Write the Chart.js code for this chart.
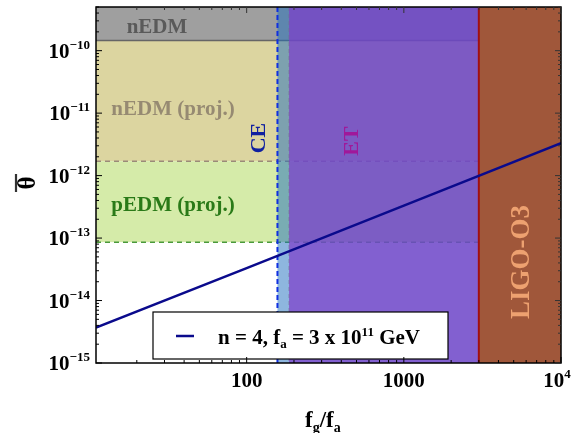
<!DOCTYPE html>
<html>
<head>
<meta charset="utf-8">
<script src="https://cdn.jsdelivr.net/npm/chart.js@4.4.1/dist/chart.umd.min.js"></script>
<style>
  body { margin: 0; background: #fff; }
  #wrap { width: 581px; height: 433px; position: relative; }
</style>
</head>
<body>
<div id="wrap"><canvas id="myChart"></canvas></div>
<script>
// axis ranges
var xMin = 11, xMax = 10000;
var yMin = 1e-15, yMax = 5e-10;

// horizontal EDM bands (theta ranges)
var bandNames = ['nEDM', 'nEDM (proj.)', 'pEDM (proj.)'];
var bandLow = [1.45e-10, 1.7e-12, 8.6e-14];
var bandHigh = [5e-10, 1.45e-10, 1.7e-12];

// vertical detector regions (f_g/f_a)
var detNames = ['CE', 'ET', 'LIGO-O3'];
var detLow = [157, 186, 3000];
var detHigh = [186, 3000, 10000];

// the n = 4 line
var lineX = [11, 100, 1000, 10000];
var lineY = [3.7e-15, 3.3e-14, 3.3e-13, 3.3e-12];

// ticks: [base, exponent]
var yTicks = [1e-15, 1e-14, 1e-13, 1e-12, 1e-11, 1e-10];
var yTickBase = ['10', '10', '10', '10', '10', '10'];
var yTickExp = ['\u221215', '\u221214', '\u221213', '\u221212', '\u221211', '\u221210'];
var xTicks = [100, 1000, 10000];
var xTickBase = ['100', '1000', '10'];
var xTickExp = ['', '', '4'];

var serif = '"Liberation Serif", "DejaVu Serif", serif';

function rotText(ctx, txt, x, y, font, color) {
  ctx.save();
  ctx.translate(x, y);
  ctx.rotate(-Math.PI / 2);
  ctx.font = font;
  ctx.fillStyle = color;
  ctx.textAlign = 'center';
  ctx.textBaseline = 'middle';
  ctx.fillText(txt, 0, 0);
  ctx.restore();
}

var regionsPlugin = {
  id: 'regions',
  beforeDatasetsDraw: function (chart) {
    var ctx = chart.ctx, xs = chart.scales.x, ys = chart.scales.y, a = chart.chartArea;
    var bandColors = ['#9f9f9f', '#dcd5a0', '#d5eba9'];
    ctx.save();
    ctx.beginPath();
    ctx.rect(a.left, a.top, a.right - a.left, a.bottom - a.top);
    ctx.clip();

    // horizontal bands
    for (var i = 0; i < bandNames.length; i++) {
      var y1 = ys.getPixelForValue(bandHigh[i]), y2 = ys.getPixelForValue(bandLow[i]);
      ctx.fillStyle = bandColors[i];
      ctx.fillRect(a.left, y1, a.right - a.left, y2 - y1);
    }
    // band edges
    ctx.lineWidth = 1.5;
    ctx.strokeStyle = '#666666';
    ctx.beginPath();
    var yb = ys.getPixelForValue(bandLow[0]);
    ctx.moveTo(a.left, yb); ctx.lineTo(a.right, yb); ctx.stroke();
    ctx.setLineDash([5, 4]);
    ctx.strokeStyle = '#9a8a78';
    yb = ys.getPixelForValue(bandLow[1]);
    ctx.beginPath(); ctx.moveTo(a.left, yb); ctx.lineTo(a.right, yb); ctx.stroke();
    ctx.strokeStyle = '#4a9a3a';
    yb = ys.getPixelForValue(bandLow[2]);
    ctx.beginPath(); ctx.moveTo(a.left, yb); ctx.lineTo(a.right, yb); ctx.stroke();
    ctx.setLineDash([]);

    // detector regions
    var detColors = ['rgba(30,110,190,0.5)', 'rgba(110,70,200,0.86)', '#a0573a'];
    for (var j = 0; j < detNames.length; j++) {
      var x1 = xs.getPixelForValue(detLow[j]), x2 = xs.getPixelForValue(detHigh[j]);
      ctx.fillStyle = detColors[j];
      ctx.fillRect(x1, a.top, x2 - x1, a.bottom - a.top);
    }
    // edges
    var xe = xs.getPixelForValue(detLow[1]);
    ctx.strokeStyle = 'rgba(120,100,150,0.6)';
    ctx.lineWidth = 1;
    ctx.setLineDash([4, 3]);
    ctx.beginPath(); ctx.moveTo(xe, a.top); ctx.lineTo(xe, a.bottom); ctx.stroke();
    xe = xs.getPixelForValue(detLow[0]);
    ctx.strokeStyle = '#1030e0';
    ctx.lineWidth = 2;
    ctx.setLineDash([5, 3]);
    ctx.beginPath(); ctx.moveTo(xe, a.top); ctx.lineTo(xe, a.bottom); ctx.stroke();
    ctx.setLineDash([]);
    xe = xs.getPixelForValue(detLow[2]);
    ctx.strokeStyle = '#a01010';
    ctx.lineWidth = 2;
    ctx.beginPath(); ctx.moveTo(xe, a.top); ctx.lineTo(xe, a.bottom); ctx.stroke();

    // labels
    ctx.font = 'bold 21px ' + serif;
    ctx.textAlign = 'center';
    ctx.textBaseline = 'middle';
    ctx.fillStyle = '#5a5a5a';
    ctx.fillText(bandNames[0], 157, 28);
    ctx.fillStyle = '#968a72';
    ctx.fillText(bandNames[1], 173, 110);
    ctx.fillStyle = '#2a7a18';
    ctx.fillText(bandNames[2], 173, 206);
    rotText(ctx, detNames[0], 259, 138, 'bold 22px ' + serif, '#1020a0');
    rotText(ctx, detNames[1], 352, 141, 'bold 22px ' + serif, '#a0189a');
    rotText(ctx, detNames[2], 522, 262, 'bold 27px ' + serif, '#eda170');
    ctx.restore();
  },
  afterDatasetsDraw: function (chart) {
    var ctx = chart.ctx, xs = chart.scales.x, ys = chart.scales.y, a = chart.chartArea;
    ctx.save();
    // legend box
    ctx.fillStyle = '#ffffff';
    ctx.fillRect(153, 312, 295, 47);
    ctx.strokeStyle = '#000';
    ctx.lineWidth = 1.2;
    ctx.strokeRect(153, 312, 295, 47);
    ctx.strokeStyle = '#0a0a8c';
    ctx.lineWidth = 2.5;
    ctx.beginPath(); ctx.moveTo(176, 336); ctx.lineTo(194, 336); ctx.stroke();
    ctx.fillStyle = '#000';
    ctx.textAlign = 'left';
    ctx.textBaseline = 'alphabetic';
    var bx = 218, by = 344;
    var big = 'bold 21px ' + serif, small = 'bold 13px ' + serif;
    var parts = [['n = 4, f', big, 0], ['a', small, 4], [' = 3 x 10', big, 0], ['11', small, -8], [' GeV', big, 0]];
    parts.forEach(function (p) {
      ctx.font = p[1];
      ctx.fillText(p[0], bx, by + p[2]);
      bx += ctx.measureText(p[0]).width;
    });

    // frame
    ctx.strokeStyle = '#000';
    ctx.lineWidth = 1.5;
    ctx.strokeRect(a.left, a.top, a.right - a.left, a.bottom - a.top);

    // inward ticks
    ctx.lineWidth = 1;
    var dec, m, p, len;
    for (dec = -15; dec <= -10; dec++) {
      for (m = 1; m <= 9; m++) {
        var v = m * Math.pow(10, dec);
        if (v < yMin || v > yMax) continue;
        p = ys.getPixelForValue(v);
        len = m === 1 ? 6 : 3;
        ctx.strokeStyle = '#000';
        ctx.beginPath(); ctx.moveTo(a.left, p); ctx.lineTo(a.left + len, p); ctx.stroke();
        ctx.strokeStyle = '#333';
        ctx.beginPath(); ctx.moveTo(a.right, p); ctx.lineTo(a.right - len, p); ctx.stroke();
      }
    }
    for (dec = 1; dec <= 4; dec++) {
      for (m = 1; m <= 9; m++) {
        var xv = m * Math.pow(10, dec);
        if (xv < xMin || xv > xMax) continue;
        p = xs.getPixelForValue(xv);
        len = m === 1 ? 6 : 3;
        ctx.strokeStyle = '#000';
        ctx.beginPath(); ctx.moveTo(p, a.bottom); ctx.lineTo(p, a.bottom - len); ctx.stroke();
        ctx.strokeStyle = '#333';
        ctx.beginPath(); ctx.moveTo(p, a.top); ctx.lineTo(p, a.top + len); ctx.stroke();
      }
    }

    // tick labels
    var baseFont = 'bold 21px ' + serif, expFont = 'bold 13px ' + serif;
    ctx.fillStyle = '#000';
    ctx.textBaseline = 'alphabetic';
    ctx.textAlign = 'left';
    yTicks.forEach(function (t, i) {
      var py = ys.getPixelForValue(t);
      ctx.font = expFont;
      var ew = ctx.measureText(yTickExp[i]).width;
      ctx.font = baseFont;
      var bw = ctx.measureText(yTickBase[i]).width;
      var x0 = 90 - ew - bw;
      ctx.fillText(yTickBase[i], x0, py + 7);
      ctx.font = expFont;
      ctx.fillText(yTickExp[i], x0 + bw, py - 2);
    });
    xTicks.forEach(function (t, i) {
      var px = xs.getPixelForValue(t);
      ctx.font = baseFont;
      var bw = ctx.measureText(xTickBase[i]).width;
      ctx.font = expFont;
      var ew = xTickExp[i] ? ctx.measureText(xTickExp[i]).width : 0;
      var x0 = px - (bw + ew) / 2 - (ew ? 4 : 0);
      ctx.font = baseFont;
      ctx.fillText(xTickBase[i], x0, 387);
      if (ew) {
        ctx.font = expFont;
        ctx.fillText(xTickExp[i], x0 + bw, 378);
      }
    });

    // axis titles
    var tx = 305, ty = 427;
    var tparts = [['f', 'bold 23px ' + serif, 0], ['g', 'bold 14px ' + serif, 5], ['/f', 'bold 23px ' + serif, 0], ['a', 'bold 14px ' + serif, 5]];
    tparts.forEach(function (p) {
      ctx.font = p[1];
      ctx.fillText(p[0], tx, ty + p[2]);
      tx += ctx.measureText(p[0]).width;
    });
    rotText(ctx, '\u03B8', 29, 183, 'bold 25px ' + serif, '#000');
    ctx.lineWidth = 2.2;
    ctx.beginPath(); ctx.moveTo(16, 174); ctx.lineTo(16, 192); ctx.stroke();
    ctx.restore();
  }
};

var ctx = document.getElementById('myChart');
var myChart = new Chart(ctx, {
  type: 'line',
  data: {
    datasets: [{
      label: 'n = 4, f_a = 3 x 10^11 GeV',
      data: lineX.map(function (x, i) { return { x: x, y: lineY[i] }; }),
      borderColor: '#0a0a8c',
      borderWidth: 2.5,
      pointRadius: 0,
      fill: false
    }]
  },
  options: {
    responsive: true,
    maintainAspectRatio: false,
    animation: false,
    layout: { padding: { top: 7, right: 20, left: 0, bottom: 0 } },
    plugins: { legend: { display: false }, tooltip: { enabled: false } },
    scales: {
      x: {
        type: 'logarithmic',
        min: xMin,
        max: xMax,
        grid: { display: false },
        border: { display: false },
        afterBuildTicks: function (scale) { scale.ticks = xTicks.map(function (v) { return { value: v }; }); },
        afterFit: function (scale) { scale.height = 70; },
        ticks: { display: false }
      },
      y: {
        type: 'logarithmic',
        min: yMin,
        max: yMax,
        grid: { display: false },
        border: { display: false },
        afterBuildTicks: function (scale) { scale.ticks = yTicks.map(function (v) { return { value: v }; }); },
        afterFit: function (scale) { scale.width = 96; },
        ticks: { display: false }
      }
    }
  },
  plugins: [regionsPlugin]
});
</script>
</body>
</html>
